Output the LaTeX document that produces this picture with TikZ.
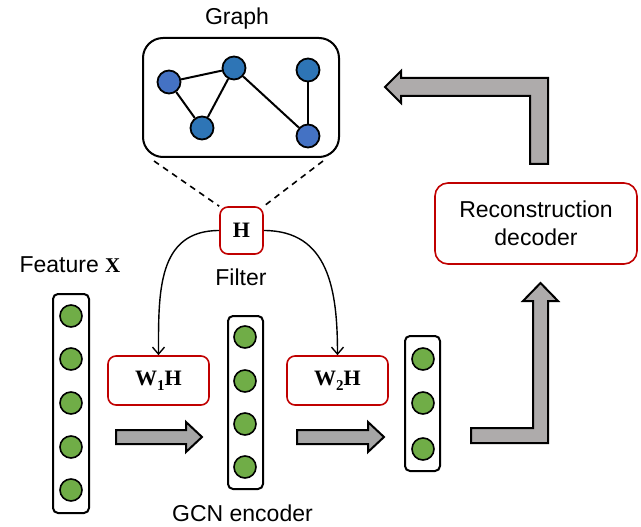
\documentclass[tikz,border=0pt]{standalone}
\usepackage[no-math]{fontspec}
\setmainfont{Liberation Sans}
\newfontfamily\bser{Liberation Serif}
\usetikzlibrary{arrows.meta}
\definecolor{gblueA}{HTML}{4472C4}
\definecolor{gblueB}{HTML}{2E75B6}
\definecolor{ggreen}{HTML}{70AD47}
\definecolor{boxred}{HTML}{C00000}
\definecolor{arrgray}{HTML}{A6A6A6}
\definecolor{lgray}{HTML}{AEABAB}
\newcommand{\subone}[1]{\raisebox{-0.22em}{\fontsize{15}{15}\selectfont #1}}
\tikzset{
  vec/.style={draw, line width=2pt, rounded corners=5pt, inner sep=0pt},
  dot/.style={circle, draw, line width=1.6pt, fill=ggreen, minimum size=22pt, inner sep=0pt},
  gnode/.style={circle, draw, line width=1.8pt, minimum size=23pt, inner sep=0pt},
  redbox/.style={draw=boxred, line width=1.6pt, rounded corners=8pt, fill=white, inner sep=0pt},
  lbl/.style={font=\fontsize{23}{28}\selectfont, inner sep=0pt},
  symfont/.style={font=\bser\bfseries\fontsize{22}{26}\selectfont},
  conn/.style={line width=1.4pt, -{Straight Barb[length=7pt,width=12pt,line width=1.4pt]}},
  gedge/.style={line width=2pt},
  blockarrow/.style={draw, line width=2pt, line join=miter}
}
\begin{document}
\begin{tikzpicture}[x=1pt,y=-1pt]
\useasboundingbox (0,0) rectangle (641,527);

% graph
\node[lbl] (gtitle) at (237,19) {Graph};
\node[draw, line width=2pt, rounded corners=20pt, minimum width=196pt, minimum height=119pt, inner sep=0pt] (graph) at (241,97.5) {};
\node[gnode, fill=gblueA] (g1) at (169,82) {};
\node[gnode, fill=gblueB] (g2) at (234,68) {};
\node[gnode, fill=gblueB] (g3) at (202,128) {};
\node[gnode, fill=gblueB] (g4) at (308,70) {};
\node[gnode, fill=gblueA] (g5) at (308,136) {};
\draw[gedge] (g1) -- (g2);
\draw[gedge] (g1) -- (g3);
\draw[gedge] (g2) -- (g3);
\draw[gedge] (g2) -- (g5);
\draw[gedge] (g4) -- (g5);

% filter
\node[redbox, symfont, minimum width=43pt, minimum height=47pt] (H) at (241.5,230.5) {H};
\node[lbl] (filter) at (241,277) {Filter};
\draw[line width=1.6pt, dash pattern=on 6pt off 5pt] ([xshift=12pt,yshift=-3pt]graph.south west) -- (H.north west);
\draw[line width=1.6pt, dash pattern=on 6pt off 5pt] ([xshift=-17pt,yshift=-3pt]graph.south east) -- (H.north east);

% weights
\node[redbox, symfont, minimum width=101pt, minimum height=49pt] (W1) at (158.5,380.5) {W\subone{1}H};
\node[redbox, symfont, minimum width=101pt, minimum height=49pt] (W2) at (337.5,380.5) {W\subone{2}H};
\draw[conn] (H.west) to[out=180,in=90,looseness=1.15] (W1.north);
\draw[conn] (H.east) to[out=0,in=90,looseness=1.15] (W2.north);

% feature vectors
\node[lbl] (feat) at (70,265) {Feature {\bser\bfseries\fontsize{21}{26}\selectfont X}};
\node[vec, minimum width=36pt, minimum height=219pt] (v1) at (71,403.5) {};
\foreach \y [count=\i] in {316,359,403,447,490} \node[dot] (a\i) at (71,\y) {};
\node[vec, minimum width=35pt, minimum height=173pt] (v2) at (245.5,402.5) {};
\foreach \y [count=\i] in {337,381,424,467} \node[dot] (b\i) at (245,\y) {};
\node[vec, minimum width=35pt, minimum height=135pt] (v3) at (422.5,403.5) {};
\foreach \y [count=\i] in {359,403,449} \node[dot] (c\i) at (423,\y) {};
\node[lbl] (gcn) at (242.5,513) {GCN encoder};

% block arrows
\draw[blockarrow, fill=arrgray] (116,430) -- (186,430) -- (186,422) -- (202,437) -- (186,452) -- (186,444) -- (116,444) -- cycle;
\draw[blockarrow, fill=arrgray] (297,430) -- (368,430) -- (368,422) -- (384,437) -- (368,452) -- (368,444) -- (297,444) -- cycle;
\draw[blockarrow, fill=lgray] (471,428) -- (533,428) -- (533,301) -- (523,301) -- (540.5,283) -- (558,301) -- (548,301) -- (548,443) -- (471,443) -- cycle;
\draw[blockarrow, fill=lgray] (530,164) -- (530,96) -- (401,96) -- (401,103) -- (385,87) -- (401,71) -- (401,78) -- (548,78) -- (548,164) -- cycle;

% decoder
\node[redbox, minimum width=202pt, minimum height=81pt, rounded corners=13pt, align=center, font=\fontsize{23}{28}\selectfont] (dec) at (536,223.5) {Reconstruction\\decoder};
\end{tikzpicture}
\end{document}
